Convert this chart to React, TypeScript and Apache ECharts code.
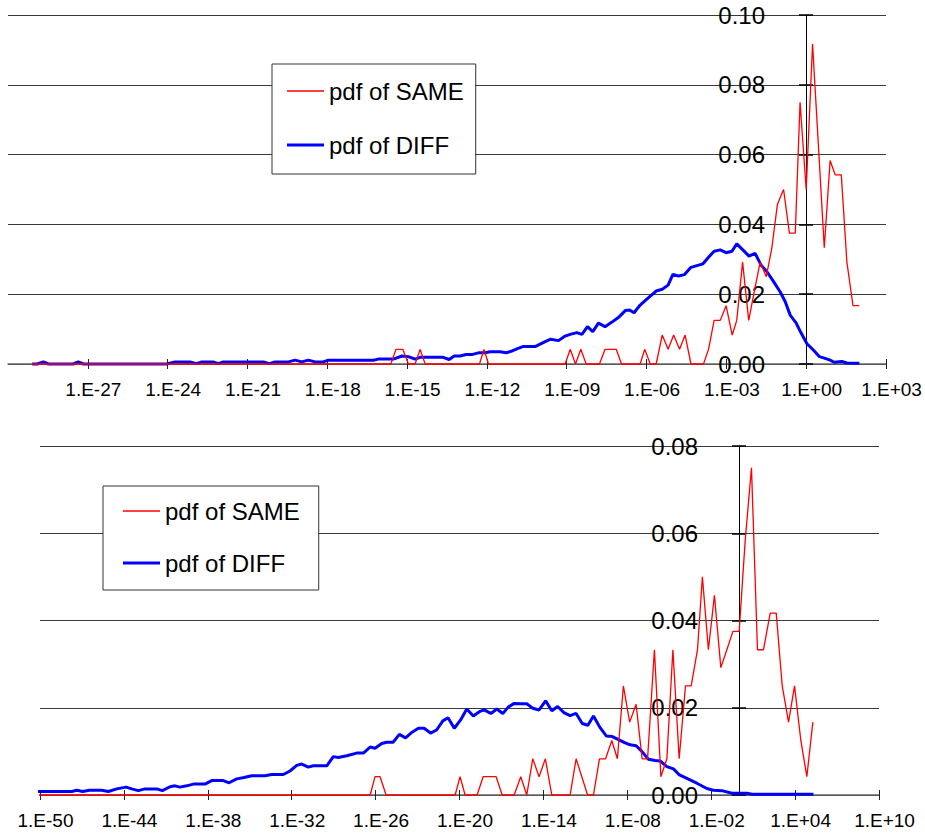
import React, { useEffect, useRef } from 'react';
import * as echarts from 'echarts';

// ---------- data (x given as log10 exponent, y as probability density) ----------
const topSameExp = [-29.09, -15.61, -15.42, -15.16, -14.95, -14.70, -14.51, -14.32, -12.28, -12.11, -11.94, -9.06, -8.87, -8.67, -8.47, -8.27, -7.77, -7.56, -7.14, -6.94, -6.24, -6.07, -5.86, -5.64, -5.41, -5.19, -4.98, -4.76, -4.55, -4.33, -3.86, -3.67, -3.46, -3.23, -3.01, -2.78, -2.61, -2.39, -2.16, -1.95, -1.73, -1.50, -1.29, -1.08, -0.85, -0.63, -0.41, -0.23, 0, 0.24, 0.46, 0.68, 0.90, 1.09, 1.32, 1.53, 1.76, 1.99];
const topSameVal = [0, 0, 0.0042, 0.0042, 0, 0, 0.0042, 0, 0, 0.0042, 0, 0, 0.0042, 0, 0.0042, 0, 0, 0.0042, 0.0042, 0, 0, 0.0042, 0, 0, 0.0083, 0.0042, 0.0083, 0.0042, 0.0083, 0, 0, 0.0042, 0.0125, 0.0125, 0.0167, 0.0083, 0.0125, 0.0292, 0.0125, 0.0208, 0.0292, 0.025, 0.0333, 0.0458, 0.05, 0.0375, 0.0375, 0.075, 0.05, 0.0917, 0.0625, 0.0333, 0.0583, 0.0542, 0.0542, 0.0292, 0.0167, 0.0167];

const topDiffExp = [-29.09, -28.90, -28.67, -28.48, -27.55, -27.36, -27.17, -24.03, -23.72, -23.16, -22.91, -22.72, -22.29, -22.09, -21.91, -20.40, -20.18, -19.96, -19.46, -19.21, -18.96, -18.71, -18.46, -18.15, -17.96, -16.27, -16.08, -15.52, -15.19, -14.95, -14.70, -14.51, -13.64, -13.42, -13.23, -13.01, -12.78, -12.57, -12.32, -12.07, -11.88, -11.50, -11.28, -11.03, -10.85, -10.65, -10.19, -10.00, -9.81, -9.60, -9.31, -9.06, -8.87, -8.62, -8.43, -8.22, -8.02, -7.81, -7.56, -7.30, -7.06, -6.80, -6.64, -6.47, -6.24, -5.99, -5.64, -5.41, -5.19, -5.01, -4.80, -4.58, -4.33, -4.11, -3.88, -3.67, -3.46, -3.23, -3.01, -2.79, -2.61, -2.38, -2.15, -1.92, -1.70, -1.48, -1.25, -0.98, -0.79, -0.60, -0.38, -0.20, 0.03, 0.27, 0.50, 0.71, 0.90, 1.05, 1.34, 1.53, 2.00];
const topDiffVal = [0, 0, 0.0006, 0, 0, 0.0006, 0, 0, 0.0006, 0.0006, 0.0001, 0.0006, 0.0006, 0.0001, 0.0006, 0.0006, 0.0001, 0.0006, 0.0006, 0.0011, 0.0006, 0.0011, 0.0006, 0.0006, 0.0011, 0.0011, 0.0014, 0.0014, 0.0023, 0.0021, 0.0014, 0.0019, 0.0019, 0.0013, 0.0023, 0.0023, 0.0027, 0.0027, 0.0032, 0.0032, 0.0035, 0.0035, 0.0032, 0.0038, 0.0044, 0.005, 0.005, 0.0057, 0.0064, 0.0071, 0.0067, 0.008, 0.0085, 0.009, 0.0085, 0.0107, 0.0093, 0.0117, 0.0107, 0.012, 0.0133, 0.0153, 0.0155, 0.0147, 0.0169, 0.0186, 0.0209, 0.0214, 0.0226, 0.0257, 0.0252, 0.0256, 0.0277, 0.0282, 0.0287, 0.0306, 0.0323, 0.0327, 0.0319, 0.0323, 0.0344, 0.0327, 0.0309, 0.0317, 0.0284, 0.0265, 0.0239, 0.0207, 0.0179, 0.014, 0.0118, 0.009, 0.0058, 0.004, 0.0021, 0.0016, 0.0011, 0.0005, 0.0007, 0.0003, 0.0002];

const botSameExp = [-50.36, -26.39, -26.04, -25.68, -25.25, -20.31, -19.96, -19.60, -18.74, -18.31, -17.38, -16.95, -16.09, -15.62, -15.19, -14.76, -14.31, -13.86, -13.40, -12.09, -11.66, -10.84, -10.42, -9.99, -9.55, -9.11, -8.71, -8.28, -7.83, -7.37, -6.94, -6.55, -6.06, -5.60, -5.17, -4.74, -4.29, -3.84, -3.43, -2.98, -2.63, -2.20, -1.77, -1.31, -0.88, -0.45, 0, 0.43, 0.88, 1.31, 1.74, 2.22, 2.65, 3.08, 3.53, 3.96, 4.41, 4.84, 5.27];
const botSameVal = [0, 0, 0.0042, 0.0042, 0, 0, 0.0042, 0, 0, 0.0042, 0.0042, 0, 0, 0.0042, 0, 0.0083, 0.0042, 0.0083, 0, 0, 0.0083, 0, 0, 0.0083, 0.0083, 0.0125, 0.0083, 0.025, 0.0167, 0.0208, 0.0083, 0.0083, 0.0333, 0.0042, 0.0083, 0.0333, 0.0083, 0.025, 0.025, 0.0333, 0.05, 0.0333, 0.0458, 0.0292, 0.0333, 0.0375, 0.0375, 0.0583, 0.075, 0.0333, 0.0333, 0.0417, 0.0417, 0.025, 0.0167, 0.025, 0.0125, 0.0042, 0.0167];

const botDiffExp = [-50.36, -47.73, -47.37, -46.95, -46.47, -45.59, -45.11, -44.51, -43.85, -43.44, -42.97, -42.49, -41.65, -41.25, -40.70, -40.34, -39.99, -39.51, -39.03, -38.20, -37.72, -36.89, -36.48, -35.93, -35.41, -34.86, -33.91, -33.43, -32.60, -32.12, -31.64, -31.28, -30.81, -30.45, -29.49, -29.02, -28.66, -28.06, -27.35, -26.87, -26.39, -26.04, -25.56, -25.20, -24.75, -24.30, -23.86, -23.39, -22.94, -22.53, -22.07, -21.64, -21.19, -20.82, -20.37, -19.92, -19.48, -19.01, -18.58, -18.24, -17.76, -17.33, -16.90, -16.50, -16.09, -15.62, -15.19, -14.76, -14.31, -13.84, -13.40, -12.98, -12.54, -12.09, -11.66, -11.22, -10.82, -10.42, -9.96, -9.49, -9.07, -8.63, -8.19, -7.80, -7.37, -6.96, -6.49, -6.01, -5.65, -5.17, -4.70, -4.27, -3.74, -3.03, -2.31, -1.84, -1.24, -0.52, 0.55, 0.91, 5.31];
const botDiffVal = [0.0008, 0.0008, 0.0011, 0.0008, 0.0011, 0.0011, 0.0008, 0.0014, 0.0018, 0.0014, 0.001, 0.0014, 0.0014, 0.001, 0.0019, 0.0021, 0.0018, 0.0021, 0.0025, 0.0025, 0.0033, 0.0033, 0.0028, 0.0037, 0.004, 0.0044, 0.0044, 0.0047, 0.0047, 0.0055, 0.0068, 0.0071, 0.0064, 0.0067, 0.0067, 0.0088, 0.0086, 0.009, 0.0096, 0.0096, 0.011, 0.0107, 0.0118, 0.0121, 0.0121, 0.0139, 0.0131, 0.0144, 0.0153, 0.0153, 0.0142, 0.0149, 0.017, 0.0177, 0.0153, 0.0172, 0.0197, 0.0181, 0.0191, 0.0195, 0.0187, 0.0197, 0.0187, 0.0202, 0.021, 0.0209, 0.0209, 0.0199, 0.0195, 0.0216, 0.0193, 0.0203, 0.0189, 0.0182, 0.0187, 0.0164, 0.016, 0.0181, 0.0155, 0.0135, 0.0134, 0.0127, 0.012, 0.0115, 0.0113, 0.01, 0.0082, 0.0079, 0.0078, 0.0065, 0.006, 0.0046, 0.0038, 0.0027, 0.0015, 0.0011, 0.001, 0.0004, 0.0004, 0.0002, 0.0002];

const topXTickExp = [-27, -24, -21, -18, -15, -12, -9, -6, -3, 0, 3];
const botXTickExp = [-50, -44, -38, -32, -26, -20, -14, -8, -2, 4, 10];
const topYTicks = [0, 0.02, 0.04, 0.06, 0.08, 0.1];
const botYTicks = [0, 0.02, 0.04, 0.06, 0.08];

const SAME = 'pdf of SAME';
const DIFF = 'pdf of DIFF';

const FONT = '"Liberation Sans", Arial, Helvetica, sans-serif';
const RED = '#ff0000';
const BLUE = '#0000ff';

function pairs(exp: number[], val: number[]) {
  return exp.map((e, i) => [Math.pow(10, e), val[i]]);
}

function expLabel(v: number) {
  const e = Math.round(Math.log10(v));
  const a = Math.abs(e);
  return '1.E' + (e < 0 ? '-' : '+') + (a < 10 ? '0' + a : String(a));
}

function mainX(gridIndex: number, tickExp: number[], minE: number, maxE: number, step: number) {
  const vals = tickExp.map((e) => Math.pow(10, e));
  return {
    type: 'log', logBase: 10, gridIndex, position: 'bottom',
    min: Math.pow(10, minE), max: Math.pow(10, maxE), interval: step,
    axisLine: { show: true, onZero: false, lineStyle: { color: '#666', width: 1.5 } },
    axisTick: { show: true, inside: false, length: 5, customValues: vals, lineStyle: { color: '#222', width: 1 } },
    axisLabel: {
      show: true, customValues: vals, formatter: expLabel, fontSize: 19, color: '#000',
      fontFamily: FONT, margin: 16, padding: [0, 0, 0, 11],
    },
    splitLine: { show: false }, minorTick: { show: false }, minorSplitLine: { show: false },
  };
}

function innerX(gridIndex: number, tickExp: number[], minE: number, maxE: number, step: number) {
  const vals = tickExp.map((e) => Math.pow(10, e));
  return {
    type: 'log', logBase: 10, gridIndex, position: 'bottom',
    min: Math.pow(10, minE), max: Math.pow(10, maxE), interval: step,
    axisLine: { show: false, onZero: false },
    axisTick: { show: true, inside: true, length: 5, customValues: vals, lineStyle: { color: '#222', width: 1 } },
    axisLabel: { show: false },
    splitLine: { show: false },
  };
}

function mainY(gridIndex: number, max: number, offset: number, ticks: number[]) {
  return {
    type: 'value', gridIndex, position: 'left', offset, min: 0, max, interval: 0.02,
    axisLine: { show: true, onZero: false, lineStyle: { color: '#000', width: 1 } },
    axisTick: { show: true, inside: false, length: 7, lineStyle: { color: '#000', width: 1.5 } },
    axisLabel: {
      show: true, fontSize: 24, color: '#000', fontFamily: FONT, margin: 41,
      formatter: (v: number) => (ticks.some((t) => Math.abs(t - v) < 1e-9) ? v.toFixed(2) : ''),
    },
    splitLine: { show: true, lineStyle: { color: '#3a3a3a', width: 1 } },
  };
}

function innerY(gridIndex: number, max: number, offset: number) {
  return {
    type: 'value', gridIndex, position: 'left', offset, min: 0, max, interval: 0.02,
    axisLine: { show: false, onZero: false },
    axisTick: { show: true, inside: true, length: 7, lineStyle: { color: '#000', width: 1.5 } },
    axisLabel: { show: false },
    splitLine: { show: false },
  };
}

function legend(left: number, top: number, padding: number[], gap: number) {
  return {
    orient: 'vertical', left, top, padding, itemGap: gap,
    itemWidth: 37, itemHeight: 14,
    backgroundColor: '#fff', borderColor: '#333', borderWidth: 1,
    selectedMode: false,
    textStyle: { fontSize: 24, color: '#000', fontFamily: FONT, lineHeight: 26 },
    data: [
      { name: SAME, icon: 'path://M0 0H37V1.3H0Z', itemStyle: { color: RED, borderWidth: 0 } },
      { name: DIFF, icon: 'path://M0 0H37V3H0Z', itemStyle: { color: BLUE, borderWidth: 0 } },
    ],
  };
}

function line(name: string, xAxisIndex: number, yAxisIndex: number, data: number[][], color: string, width: number) {
  return {
    name, type: 'line', xAxisIndex, yAxisIndex, data, symbol: 'none', showSymbol: false, clip: false,
    lineStyle: { color, width }, itemStyle: { color }, emphasis: { disabled: true },
  };
}

export default function App() {
  const ref = useRef<HTMLDivElement>(null);
  useEffect(() => {
    if (!ref.current) return;
    const chart = echarts.init(ref.current, undefined, { renderer: 'svg' });
    const option = {
      animation: false,
      backgroundColor: '#fff',
      textStyle: { fontFamily: FONT },
      grid: [
        { left: 8, top: 15, width: 878, height: 349 },
        { left: 40, top: 446, width: 839, height: 349 },
      ],
      xAxis: [
        mainX(0, topXTickExp, -30, 3, 3),
        innerX(0, topXTickExp, -30, 3, 3),
        mainX(1, botXTickExp, -50, 10, 6),
        innerX(1, botXTickExp, -50, 10, 6),
      ],
      yAxis: [
        mainY(0, 0.1, -798, topYTicks),
        innerY(0, 0.1, -798),
        mainY(1, 0.08, -699, botYTicks),
        innerY(1, 0.08, -699),
      ],
      legend: [
        legend(272, 64, [14, 12, 16, 15], 28),
        legend(103, 486, [12, 19, 14, 20], 26),
      ],
      series: [
        line(DIFF, 0, 0, pairs(topDiffExp, topDiffVal), BLUE, 3),
        line(SAME, 0, 0, pairs(topSameExp, topSameVal), RED, 1.3),
        line(DIFF, 2, 2, pairs(botDiffExp, botDiffVal), BLUE, 3),
        line(SAME, 2, 2, pairs(botSameExp, botSameVal), RED, 1.3),
      ],
    };
    chart.setOption(option as any);
    return () => chart.dispose();
  }, []);
  return (
    <div
      ref={ref}
      style={{ position: 'absolute', left: 0, top: 0, width: 925, height: 835, background: '#fff' }}
    />
  );
}
